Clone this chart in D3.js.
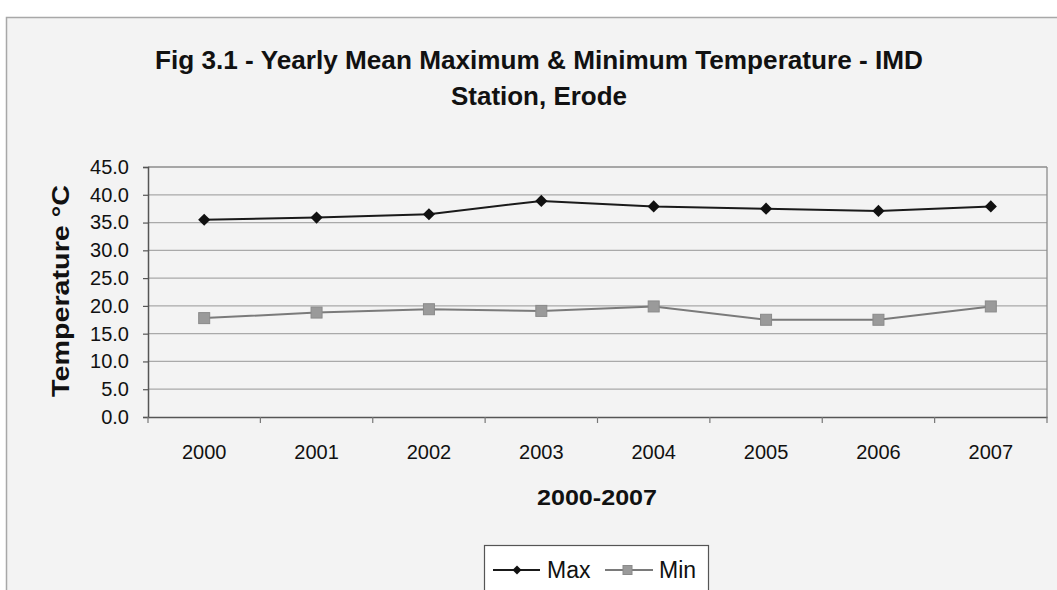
<!DOCTYPE html>
<html>
<head>
<meta charset="utf-8">
<script src="https://cdn.jsdelivr.net/npm/d3@7"></script>
<style>
  html, body { margin: 0; padding: 0; background: #ffffff; }
  svg { display: block; }
  text { font-family: "Liberation Sans", Arial, sans-serif; fill: #111; }
</style>
</head>
<body>
<svg id="chart" width="1057" height="590"></svg>
<script>
// Yearly mean temperatures at the IMD station, Erode
const years = ["2000", "2001", "2002", "2003", "2004", "2005", "2006", "2007"];
const maxTemp = [35.5, 35.9, 36.5, 38.9, 37.9, 37.5, 37.1, 37.9];
const minTemp = [17.8, 18.8, 19.4, 19.1, 19.9, 17.5, 17.5, 19.9];
const yTicks = [0, 5, 10, 15, 20, 25, 30, 35, 40, 45];

const titleLines = ["Fig 3.1 - Yearly Mean Maximum & Minimum Temperature - IMD", "Station, Erode"];
const xTitle = "2000-2007";
const yTitle = "Temperature  °C";
const seriesNames = ["Max", "Min"];

const svg = d3.select("#chart");

// chart area frame
svg.append("rect")
  .attr("x", 6.5).attr("y", 17.5)
  .attr("width", 1060).attr("height", 600)
  .attr("fill", "#f3f3f3")
  .attr("stroke", "#a8a8a8").attr("stroke-width", 1.5);

const plot = { left: 148, right: 1047, top: 167, bottom: 417 };

const x = d3.scaleBand().domain(years).range([plot.left, plot.right]);
const y = d3.scaleLinear().domain([0, 45]).range([plot.bottom, plot.top]);

// gridlines
svg.append("g")
  .selectAll("line")
  .data(yTicks.filter(d => d > 0))
  .join("line")
  .attr("x1", plot.left).attr("x2", plot.right)
  .attr("y1", d => y(d)).attr("y2", d => y(d))
  .attr("stroke", d => d === 45 ? "#8c8c8c" : "#a9a9a9")
  .attr("stroke-width", 1.3);

// plot area right border
svg.append("line")
  .attr("x1", plot.right).attr("x2", plot.right)
  .attr("y1", plot.top).attr("y2", plot.bottom)
  .attr("stroke", "#8c8c8c").attr("stroke-width", 1.3);

// y axis
const yAxis = d3.axisLeft(y)
  .tickValues(yTicks)
  .tickFormat(d3.format(".1f"))
  .tickSize(5)
  .tickPadding(14);
const gy = svg.append("g")
  .attr("transform", `translate(${plot.left},0)`)
  .call(yAxis);
gy.select(".domain").attr("stroke", "#555").attr("stroke-width", 1.5);
gy.selectAll(".tick line").attr("stroke", "#555").attr("stroke-width", 1.2);
gy.selectAll(".tick text")
  .attr("font-size", 20)
  .attr("font-family", "Liberation Sans, Arial, sans-serif")
  .attr("fill", "#222");

// x axis with ticks between categories
const xAxis = d3.axisBottom(x).tickSize(0).tickPadding(28);
const gx = svg.append("g")
  .attr("transform", `translate(0,${plot.bottom})`)
  .call(xAxis);
gx.select(".domain").attr("stroke", "#555").attr("stroke-width", 1.5);
gx.selectAll(".tick text")
  .attr("font-size", 20)
  .attr("font-family", "Liberation Sans, Arial, sans-serif")
  .attr("fill", "#222");
gx.selectAll("line.sep")
  .data(years.map(d => x(d)).concat([plot.right]))
  .join("line")
  .attr("class", "sep")
  .attr("x1", d => d).attr("x2", d => d)
  .attr("y1", 0).attr("y2", 6)
  .attr("stroke", "#777").attr("stroke-width", 1.2);

const cx = d => x(d) + x.bandwidth() / 2;
const line = d3.line().x(d => cx(d.year)).y(d => y(d.value));

const maxData = years.map((yr, i) => ({ year: yr, value: maxTemp[i] }));
const minData = years.map((yr, i) => ({ year: yr, value: minTemp[i] }));

// Min series
svg.append("path")
  .datum(minData)
  .attr("d", line)
  .attr("fill", "none")
  .attr("stroke", "#7a7a7a").attr("stroke-width", 2);
svg.append("g")
  .selectAll("rect")
  .data(minData)
  .join("rect")
  .attr("x", d => cx(d.year) - 5.5).attr("y", d => y(d.value) - 5.5)
  .attr("width", 11).attr("height", 11)
  .attr("fill", "#9a9a9a").attr("stroke", "#8a8a8a").attr("stroke-width", 1);

// Max series: diamond markers are squares turned 45 degrees
svg.append("path")
  .datum(maxData)
  .attr("d", line)
  .attr("fill", "none")
  .attr("stroke", "#1a1a1a").attr("stroke-width", 2);
const diamond = d3.symbol().type(d3.symbolSquare).size(74);
svg.append("g")
  .selectAll("path")
  .data(maxData)
  .join("path")
  .attr("transform", d => `translate(${cx(d.year)},${y(d.value)}) rotate(45)`)
  .attr("d", diamond)
  .attr("fill", "#111");

// titles
const title = svg.append("text")
  .attr("text-anchor", "middle")
  .attr("font-weight", "bold")
  .attr("font-size", 26);
title.selectAll("tspan")
  .data(titleLines)
  .join("tspan")
  .attr("x", 539)
  .attr("y", (d, i) => 69 + i * 36)
  .attr("textLength", (d, i) => i === 0 ? 768 : 176)
  .attr("lengthAdjust", "spacingAndGlyphs")
  .text(d => d);

svg.append("text")
  .attr("x", 597).attr("y", 505)
  .attr("text-anchor", "middle")
  .attr("font-weight", "bold")
  .attr("font-size", 22)
  .attr("textLength", 120)
  .attr("lengthAdjust", "spacingAndGlyphs")
  .text(xTitle);

svg.append("text")
  .attr("transform", "translate(69,291) rotate(-90)")
  .attr("text-anchor", "middle")
  .attr("font-weight", "bold")
  .attr("font-size", 23)
  .attr("textLength", 212)
  .attr("lengthAdjust", "spacingAndGlyphs")
  .text(yTitle);

// legend
const lg = svg.append("g");
lg.append("rect")
  .attr("x", 484.5).attr("y", 545.5)
  .attr("width", 224).attr("height", 60)
  .attr("fill", "#ffffff").attr("stroke", "#555").attr("stroke-width", 1.2);
const ly = 570;
lg.append("line").attr("x1", 493).attr("x2", 540).attr("y1", ly).attr("y2", ly)
  .attr("stroke", "#1a1a1a").attr("stroke-width", 2);
lg.append("path").attr("transform", `translate(517,${ly}) rotate(45)`)
  .attr("d", d3.symbol().type(d3.symbolSquare).size(40)).attr("fill", "#111");
lg.append("text").attr("x", 547).attr("y", ly + 8).attr("font-size", 23)
  .text(seriesNames[0]);
lg.append("line").attr("x1", 605).attr("x2", 653).attr("y1", ly).attr("y2", ly)
  .attr("stroke", "#7a7a7a").attr("stroke-width", 2);
lg.append("rect").attr("x", 623).attr("y", ly - 4.5).attr("width", 9).attr("height", 9)
  .attr("fill", "#9a9a9a").attr("stroke", "#8a8a8a");
lg.append("text").attr("x", 659).attr("y", ly + 8).attr("font-size", 23)
  .text(seriesNames[1]);
</script>
</body>
</html>
